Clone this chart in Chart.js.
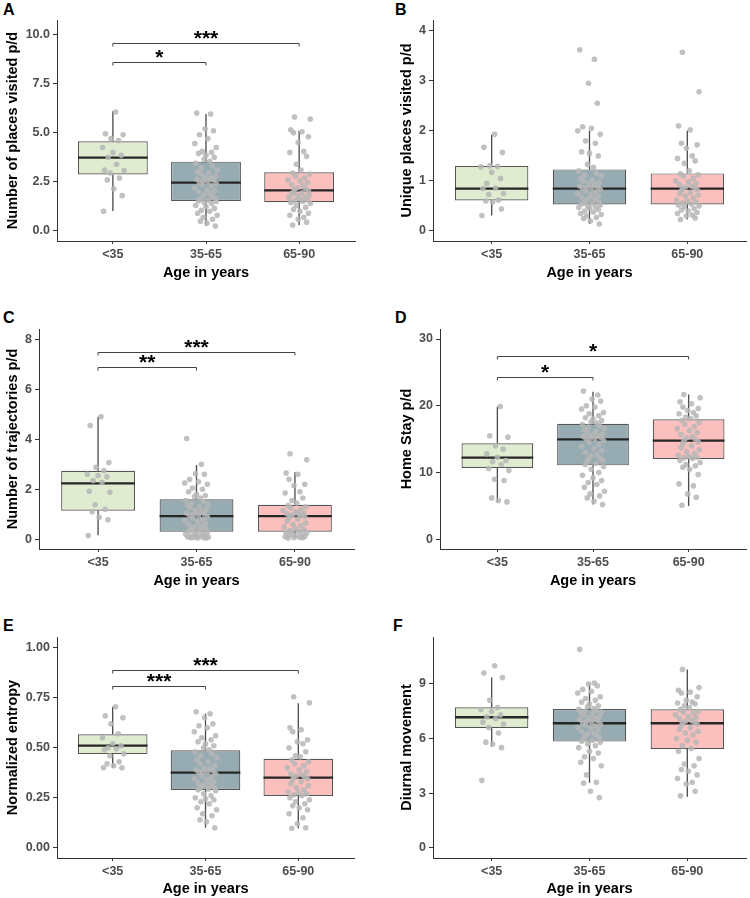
<!DOCTYPE html>
<html>
<head>
<meta charset="utf-8">
<script src="https://cdn.jsdelivr.net/npm/chart.js@4.4.0/dist/chart.umd.min.js"></script>
<style>
    body { margin: 0; background: #fff; width: 750px; height: 898px; position: relative; overflow: hidden; font-family: "Liberation Sans", Arial, sans-serif; }
    canvas { position: absolute; }
    .tag { position: absolute; font-weight: bold; font-size: 16px; line-height: 16px; color: #000; }
</style>
</head>
<body>
<div class="tag" style="left:3px;top:2px">A</div>
<div class="tag" style="left:395px;top:2px">B</div>
<div class="tag" style="left:3px;top:310px">C</div>
<div class="tag" style="left:395px;top:310px">D</div>
<div class="tag" style="left:3px;top:618px">E</div>
<div class="tag" style="left:393px;top:618px">F</div>
<script>
const groups = ['<35', '35-65', '65-90'];
const boxColors = ['#dfecd0', '#97abb3', '#fbbfbe'];

// jitter offsets (in category units)
const jitter = [0.03, -0.08, 0.11, -0.02, 0.06, -0.11, 0.0, 0.09, -0.05, 0.04, -0.09, 0.12, -0.03, 0.07, -0.06,
    0.01, 0.1, -0.1, 0.05, -0.01, 0.08, -0.07, 0.02, -0.12, 0.11, -0.04, 0.06, -0.08, 0.0, 0.09,
    -0.02, 0.04, -0.11, 0.07, -0.05, 0.12, -0.09, 0.03, -0.06, 0.1, -0.01, 0.05, -0.1, 0.08, -0.03,
    0.02, -0.07, 0.11, -0.04, 0.06, -0.12, 0.01, 0.09, -0.08, 0.04, -0.02, 0.07, -0.05, 0.1, -0.06];

// A - places visited p/d   [min, q1, median, q3, max]
const placesTicks = [0, 2.5, 5, 7.5, 10];
const placesStats = [[1.02, 2.88, 3.73, 4.57, 6.1], [0.25, 1.53, 2.46, 3.53, 5.95], [0.3, 1.46, 2.07, 2.99, 5.1]];
const placesYoung = [6.05, 4.95, 4.9, 4.7, 4.6, 4.25, 4.0, 3.85, 3.75, 3.4, 3.1, 3.08, 2.95, 2.7, 2.6, 2.15, 1.8, 1.0];
const placesMid = [6.0, 5.95, 5.2, 5.1, 4.9, 4.7, 4.45, 4.25, 4.05, 4.0, 3.95, 3.85, 3.75, 3.65, 3.55,
    3.45, 3.3, 3.2, 3.1, 3.0, 2.95, 2.9, 2.8, 2.75, 2.7, 2.65, 2.6, 2.55, 2.5, 2.47,
    2.42, 2.35, 2.3, 2.2, 2.1, 2.05, 2.0, 1.9, 1.85, 1.8, 1.7, 1.65, 1.6, 1.56, 1.54,
    1.5, 1.45, 1.4, 1.3, 1.25, 1.15, 1.05, 1.0, 0.9, 0.8, 0.7, 0.6, 0.5, 0.4, 0.25];
const placesOld = [5.8, 5.7, 5.15, 5.05, 5.0, 4.8, 4.5, 4.05, 4.0, 3.8, 3.4, 3.1,
    2.95, 2.9, 2.8, 2.7, 2.6, 2.55, 2.45, 2.35, 2.3, 2.2, 2.15, 2.1,
    2.05, 2.0, 1.95, 1.9, 1.85, 1.8, 1.75, 1.7, 1.65, 1.6, 1.55, 1.5,
    1.45, 1.4, 1.3, 1.2, 1.1, 1.0, 0.9, 0.8, 0.7, 0.6, 0.45, 0.3];
const placesSig = [[1, 2, 8.62, '*'], [1, 3, 9.58, '***']];

// B - unique places visited p/d
const uniqueTicks = [0, 1, 2, 3, 4];
const uniqueStats = [[0.31, 0.61, 0.845, 1.3, 1.92], [0.14, 0.53, 0.845, 1.23, 2.0], [0.23, 0.53, 0.845, 1.15, 2.0]];
const uniqueYoung = [1.93, 1.67, 1.57, 1.3, 1.29, 1.28, 1.17, 1.05, 0.95, 0.86, 0.85, 0.75, 0.73, 0.62, 0.6, 0.58, 0.44, 0.31];
const uniqueMid = [3.62, 3.43, 2.95, 2.55, 2.08, 2.05, 2.0, 1.93, 1.8, 1.75, 1.58, 1.55, 1.5, 1.33, 1.27,
    1.2, 1.15, 1.12, 1.1, 1.05, 1.02, 1.0, 0.97, 0.95, 0.92, 0.9, 0.88, 0.87, 0.86, 0.85,
    0.83, 0.8, 0.78, 0.75, 0.73, 0.7, 0.68, 0.66, 0.64, 0.62, 0.6, 0.58, 0.56, 0.55, 0.54,
    0.52, 0.5, 0.48, 0.47, 0.45, 0.43, 0.4, 0.38, 0.35, 0.33, 0.3, 0.27, 0.25, 0.2, 0.14];
const uniqueOld = [3.57, 2.78, 2.1, 2.02, 1.75, 1.72, 1.65, 1.5, 1.45, 1.4, 1.35, 1.2,
    1.14, 1.12, 1.1, 1.05, 1.0, 0.98, 0.95, 0.93, 0.9, 0.88, 0.87, 0.85,
    0.83, 0.8, 0.77, 0.75, 0.72, 0.7, 0.66, 0.62, 0.6, 0.58, 0.56, 0.54,
    0.52, 0.5, 0.48, 0.45, 0.42, 0.4, 0.37, 0.35, 0.32, 0.3, 0.26, 0.23];
const uniqueSig = [];

// C - trajectories p/d
const trajTicks = [0, 2, 4, 6, 8];
const trajStats = [[0.16, 1.14, 2.24, 2.74, 4.9], [0.05, 0.3, 0.93, 1.6, 2.97], [0.05, 0.3, 0.93, 1.38, 2.68]];
const trajYoung = [4.9, 4.55, 3.07, 2.88, 2.75, 2.6, 2.55, 2.5, 2.35, 2.28, 1.92, 1.88, 1.38, 1.2, 1.1, 0.88, 0.78, 0.15];
const trajMid = [4.03, 3.0, 2.62, 2.6, 2.4, 2.3, 2.25, 2.2, 2.05, 2.0, 1.9, 1.8, 1.75, 1.7, 1.65,
    1.55, 1.5, 1.45, 1.4, 1.35, 1.3, 1.25, 1.2, 1.15, 1.1, 1.05, 1.02, 1.0, 0.97, 0.95,
    0.9, 0.85, 0.8, 0.75, 0.7, 0.65, 0.6, 0.55, 0.5, 0.48, 0.45, 0.42, 0.38, 0.35, 0.32,
    0.28, 0.25, 0.22, 0.2, 0.18, 0.15, 0.13, 0.12, 0.1, 0.09, 0.08, 0.07, 0.06, 0.05, 0.05];
const trajOld = [3.42, 3.18, 2.65, 2.6, 2.4, 2.2, 2.15, 1.9, 1.85, 1.65, 1.55, 1.45,
    1.35, 1.3, 1.25, 1.2, 1.15, 1.1, 1.05, 1.02, 1.0, 0.98, 0.96, 0.94,
    0.9, 0.85, 0.8, 0.72, 0.65, 0.6, 0.55, 0.5, 0.45, 0.4, 0.35, 0.32,
    0.28, 0.25, 0.22, 0.2, 0.17, 0.15, 0.12, 0.1, 0.08, 0.07, 0.06, 0.05];
const trajSig = [[1, 2, 6.9, '**'], [1, 3, 7.5, '***']];

// D - home stay p/d
const homeTicks = [0, 10, 20, 30];
const homeStats = [[5.6, 10.68, 12.22, 14.38, 19.86], [5.2, 11.08, 14.98, 17.31, 22.1], [5.0, 12.03, 14.77, 17.97, 21.7]];
const homeYoung = [19.9, 15.5, 15.3, 14.0, 13.5, 12.8, 12.3, 11.8, 11.6, 11.2, 10.6, 10.3, 9.0, 8.8, 6.2, 5.8, 5.6];
const homeMid = [22.2, 21.6, 21.0, 20.7, 20.0, 19.8, 19.5, 19.0, 18.8, 18.5, 18.2, 18.0, 17.8, 17.6, 17.4,
    17.2, 17.0, 16.8, 16.6, 16.4, 16.2, 16.0, 15.8, 15.6, 15.5, 15.4, 15.3, 15.2, 15.1, 15.0,
    14.8, 14.5, 14.2, 13.9, 13.6, 13.3, 13.0, 12.7, 12.5, 12.2, 12.0, 11.8, 11.6, 11.4, 11.2,
    10.9, 10.5, 10.0, 9.6, 9.2, 8.8, 8.5, 8.2, 7.8, 7.2, 6.8, 6.5, 6.2, 5.7, 5.2];
const homeOld = [21.7, 21.2, 20.6, 20.3, 19.8, 19.6, 19.3, 19.0, 18.8, 18.5, 18.3, 18.1,
    17.8, 17.5, 17.2, 16.9, 16.6, 16.3, 16.0, 15.7, 15.4, 15.2, 15.0, 14.8,
    14.6, 14.3, 14.0, 13.7, 13.4, 13.1, 12.8, 12.6, 12.4, 12.3, 12.2, 12.1,
    11.8, 11.5, 11.2, 11.0, 10.8, 10.5, 9.7, 8.3, 8.0, 6.8, 6.3, 5.1];
const homeSig = [[1, 2, 24.35, '*'], [1, 3, 27.5, '*']];

// E - normalized entropy
const entropyTicks = [0, 0.25, 0.5, 0.75, 1];
const entropyStats = [[0.4, 0.468, 0.51, 0.567, 0.705], [0.1, 0.289, 0.375, 0.487, 0.67], [0.097, 0.259, 0.35, 0.445, 0.722]];
const entropyYoung = [0.705, 0.66, 0.65, 0.62, 0.57, 0.55, 0.52, 0.51, 0.5, 0.495, 0.49, 0.47, 0.46, 0.43, 0.42, 0.41, 0.4, 0.4];
const entropyMid = [0.68, 0.67, 0.65, 0.62, 0.61, 0.6, 0.58, 0.56, 0.55, 0.54, 0.53, 0.52, 0.51, 0.5, 0.49,
    0.48, 0.47, 0.46, 0.45, 0.44, 0.43, 0.42, 0.41, 0.4, 0.395, 0.39, 0.385, 0.38, 0.378, 0.376,
    0.37, 0.36, 0.35, 0.345, 0.34, 0.33, 0.325, 0.32, 0.315, 0.31, 0.305, 0.3, 0.297, 0.294, 0.29,
    0.285, 0.27, 0.26, 0.25, 0.245, 0.24, 0.23, 0.22, 0.2, 0.19, 0.17, 0.16, 0.14, 0.13, 0.1];
const entropyOld = [0.755, 0.725, 0.6, 0.59, 0.58, 0.54, 0.53, 0.52, 0.5, 0.48, 0.46, 0.455,
    0.44, 0.43, 0.42, 0.41, 0.4, 0.39, 0.38, 0.37, 0.365, 0.36, 0.355, 0.352,
    0.345, 0.34, 0.33, 0.32, 0.31, 0.3, 0.29, 0.28, 0.275, 0.27, 0.265, 0.26,
    0.25, 0.24, 0.23, 0.22, 0.21, 0.2, 0.19, 0.17, 0.15, 0.12, 0.1, 0.097];
const entropySig = [[1, 2, 0.81, '***'], [1, 3, 0.888, '***']];

// F - diurnal movement
const diurnalTicks = [0, 3, 6, 9];
const diurnalStats = [[5.55, 6.58, 7.17, 7.72, 9.35], [3.57, 5.83, 6.84, 7.62, 9.04], [2.8, 5.43, 6.84, 7.61, 9.8]];
const diurnalYoung = [10.0, 9.6, 9.35, 8.1, 7.7, 7.6, 7.5, 7.3, 7.2, 7.1, 6.9, 6.8, 6.6, 6.3, 5.8, 5.7, 5.5, 3.7];
const diurnalMid = [10.9, 9.05, 9.0, 8.9, 8.7, 8.6, 8.5, 8.3, 8.2, 8.1, 8.0, 7.9, 7.8, 7.75, 7.65,
    7.6, 7.55, 7.5, 7.45, 7.4, 7.35, 7.3, 7.2, 7.15, 7.1, 7.05, 7.0, 6.95, 6.9, 6.85,
    6.8, 6.75, 6.7, 6.6, 6.55, 6.5, 6.4, 6.3, 6.25, 6.2, 6.1, 6.05, 6.0, 5.9, 5.85,
    5.8, 5.7, 5.6, 5.5, 5.3, 5.2, 5.0, 4.9, 4.7, 4.5, 4.0, 3.6, 3.55, 3.1, 2.75];
const diurnalOld = [9.8, 8.8, 8.65, 8.55, 8.5, 8.3, 8.1, 8.0, 7.95, 7.9, 7.8, 7.7,
    7.6, 7.5, 7.45, 7.4, 7.3, 7.2, 7.15, 7.1, 7.0, 6.95, 6.9, 6.85,
    6.8, 6.7, 6.6, 6.5, 6.4, 6.3, 6.2, 6.0, 5.9, 5.8, 5.6, 5.45,
    5.3, 4.9, 4.6, 4.5, 4.3, 4.2, 4.0, 3.8, 3.6, 3.5, 3.1, 2.85];
const diurnalSig = [];

// panel layout: canvas origin, height, plot box [left, top, right, bottom] in canvas px
const panels = [
    {x: 0, y: 0, h: 300, plot: [57, 20, 355, 241], titleX: 13, title: 'Number of places visited p/d', min: -0.509, max: 10.738,
        ticks: placesTicks, dec: 1, stats: placesStats, points: [placesYoung, placesMid, placesOld], sig: placesSig},
    {x: 375, y: 0, h: 300, plot: [58, 20, 372, 241], titleX: 32, title: 'Unique places visited p/d', min: -0.2, max: 4.214,
        ticks: uniqueTicks, dec: 0, stats: uniqueStats, points: [uniqueYoung, uniqueMid, uniqueOld], sig: uniqueSig},
    {x: 0, y: 300, h: 300, plot: [39, 29, 354, 249], titleX: 13, title: 'Number of trajectories p/d', min: -0.388, max: 8.412,
        ticks: trajTicks, dec: 0, stats: trajStats, points: [trajYoung, trajMid, trajOld], sig: trajSig},
    {x: 375, y: 300, h: 300, plot: [65, 29, 372, 249], titleX: 32, title: 'Home Stay p/d', min: -1.453, max: 31.5,
        ticks: homeTicks, dec: 0, stats: homeStats, points: [homeYoung, homeMid, homeOld], sig: homeSig},
    {x: 0, y: 600, h: 298, plot: [57, 37, 354, 258], titleX: 13, title: 'Normalized entropy', min: -0.0515, max: 1.0535,
        ticks: entropyTicks, dec: 2, stats: entropyStats, points: [entropyYoung, entropyMid, entropyOld], sig: entropySig},
    {x: 375, y: 600, h: 298, plot: [58, 37, 372, 258], titleX: 32, title: 'Diurnal movement', min: -0.566, max: 11.58,
        ticks: diurnalTicks, dec: 0, stats: diurnalStats, points: [diurnalYoung, diurnalMid, diurnalOld], sig: diurnalSig}
];

Chart.defaults.font.family = "'Liberation Sans', Arial, sans-serif";

// whiskers, medians and significance brackets
const boxExtras = {
    id: 'boxExtras',
    beforeDatasetDraw: function (chart, args) {
        if (args.meta.type !== 'bar') return;
        const ctx = chart.ctx, x = chart.scales.x, y = chart.scales.y;
        const stats = chart.data.datasets[args.index].stats;
        ctx.save();
        ctx.strokeStyle = '#4a4a4a';
        ctx.lineWidth = 1.3;
        stats.forEach(function (s, i) {
            const px = x.getPixelForValue(i + 1);
            ctx.beginPath();
            ctx.moveTo(px, y.getPixelForValue(s[0]));
            ctx.lineTo(px, y.getPixelForValue(s[1]));
            ctx.moveTo(px, y.getPixelForValue(s[3]));
            ctx.lineTo(px, y.getPixelForValue(s[4]));
            ctx.stroke();
        });
        ctx.restore();
    },
    afterDatasetDraw: function (chart, args) {
        if (args.meta.type !== 'bar') return;
        const ctx = chart.ctx, y = chart.scales.y;
        const stats = chart.data.datasets[args.index].stats;
        ctx.save();
        ctx.strokeStyle = '#262626';
        ctx.lineWidth = 2.3;
        args.meta.data.forEach(function (bar, i) {
            const py = y.getPixelForValue(stats[i][2]);
            ctx.beginPath();
            ctx.moveTo(bar.x - bar.width / 2, py);
            ctx.lineTo(bar.x + bar.width / 2, py);
            ctx.stroke();
        });
        ctx.restore();
    },
    afterDatasetsDraw: function (chart, args, opts) {
        const ctx = chart.ctx, x = chart.scales.x, y = chart.scales.y;
        ctx.save();
        ctx.strokeStyle = '#444';
        ctx.lineWidth = 1;
        ctx.fillStyle = '#000';
        ctx.font = 'bold 21px "Liberation Sans", Arial, sans-serif';
        ctx.textAlign = 'center';
        ctx.textBaseline = 'alphabetic';
        (opts.sig || []).forEach(function (s) {
            const x1 = x.getPixelForValue(s[0]), x2 = x.getPixelForValue(s[1]);
            const py = Math.round(y.getPixelForValue(s[2])) + 0.5;
            ctx.beginPath();
            ctx.moveTo(x1, py + 3);
            ctx.lineTo(x1, py);
            ctx.lineTo(x2, py);
            ctx.lineTo(x2, py + 3);
            ctx.stroke();
            ctx.fillText(s[3], (x1 + x2) / 2, py + 1);
        });
        ctx.restore();
    }
};

panels.forEach(function (p) {
    const cv = document.createElement('canvas');
    cv.width = 375;
    cv.height = p.h;
    cv.style.left = p.x + 'px';
    cv.style.top = p.y + 'px';
    document.body.appendChild(cv);

    let pts = [];
    p.points.forEach(function (arr, g) {
        arr.forEach(function (v, i) {
            pts.push({x: g + 1 + jitter[(i + g * 17) % jitter.length], y: v});
        });
    });

    const boxes = p.stats.map(function (s, i) {
        return {x: i + 1, y: [s[1], s[3]]};
    });

    const plotBottom = p.plot[3];
    const xTitlePad = Math.max(0, p.h - plotBottom - 32 - 8.7);

    new Chart(cv, {
        type: 'bar',
        data: {
            datasets: [
                {
                    type: 'scatter',
                    data: pts,
                    order: 0,
                    backgroundColor: 'rgba(182,182,182,0.85)',
                    borderWidth: 0,
                    pointRadius: 2.8
                },
                {
                    type: 'bar',
                    data: boxes,
                    stats: p.stats,
                    order: 1,
                    backgroundColor: boxColors,
                    borderColor: '#555',
                    borderWidth: 1.2,
                    borderSkipped: false,
                    barPercentage: 0.75,
                    categoryPercentage: 1
                }
            ]
        },
        options: {
            responsive: false,
            animation: false,
            devicePixelRatio: 1,
            layout: {padding: {left: 0, top: p.plot[1], right: 375 - p.plot[2], bottom: 0}},
            plugins: {legend: {display: false}, tooltip: {enabled: false}, boxExtras: {sig: p.sig}},
            scales: {
                x: {
                    type: 'linear',
                    min: 0.4,
                    max: 3.6,
                    offset: false,
                    afterBuildTicks: function (s) {
                        s.ticks = [1, 2, 3].map(function (v) { return {value: v}; });
                    },
                    afterFit: function (s) { s.height = p.h - plotBottom; },
                    ticks: {
                        callback: function (v) { return groups[v - 1]; },
                        color: '#4d4d4d',
                        font: {size: 12.5, weight: 'bold'},
                        padding: 3,
                        maxRotation: 0,
                        autoSkip: false
                    },
                    grid: {offset: false, drawOnChartArea: false, tickLength: 3, color: '#333', tickWidth: 1},
                    border: {display: true, color: '#333', width: 1},
                    title: {display: true, text: 'Age in years', color: '#000', font: {size: 14.5, weight: 'bold'}, padding: {top: 0, bottom: xTitlePad}}
                },
                y: {
                    type: 'linear',
                    min: p.min,
                    max: p.max,
                    afterBuildTicks: function (s) {
                        s.ticks = p.ticks.map(function (v) { return {value: v}; });
                    },
                    afterFit: function (s) { s.width = p.plot[0]; },
                    ticks: {
                        callback: function (v) { return v.toFixed(p.dec); },
                        color: '#4d4d4d',
                        font: {size: 12.5, weight: 'bold'},
                        padding: 3
                    },
                    grid: {drawOnChartArea: false, tickLength: 4, color: '#333', tickWidth: 1},
                    border: {display: true, color: '#333', width: 1},
                    title: {display: true, text: p.title, color: '#000', font: {size: 14.5, weight: 'bold'}, padding: {top: p.titleX - 8.7, bottom: 0}}
                }
            }
        },
        plugins: [boxExtras]
    });
});
</script>
</body>
</html>
